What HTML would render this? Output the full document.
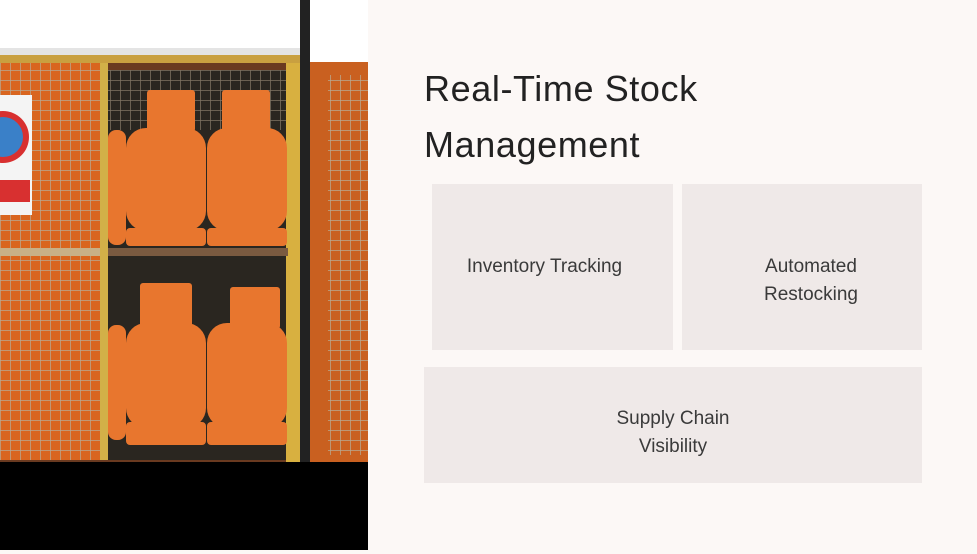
<!DOCTYPE html>
<html><head><meta charset="utf-8"><style>
body{margin:0;width:977px;height:554px;overflow:hidden;background:#fcf8f6;font-family:"Liberation Sans",sans-serif;position:relative}
.t{position:absolute;left:424px;font-size:36px;color:#222;line-height:56px;top:61px;margin:0;font-weight:normal;letter-spacing:0.6px}
.b{position:absolute;background:#efe9e8;display:flex;align-items:center;justify-content:center;text-align:center;font-size:19px;color:#3a3a3a;line-height:28px;box-sizing:border-box}
</style></head><body>
<svg style="position:absolute;left:0;top:0" width="368" height="550" viewBox="0 0 368 550">
<defs><pattern id="m" width="10" height="10" patternUnits="userSpaceOnUse"><path d="M0 0H10M0 0V10" stroke="#b8a890" stroke-width="1.5" fill="none"/></pattern></defs>
<rect width="368" height="550" fill="#fff"/>
<rect x="0" y="48" width="300" height="8" fill="#e4e4e4"/>
<rect x="0" y="56" width="300" height="408" fill="#6a3a20"/>
<rect x="0" y="60" width="105" height="400" fill="#d9651f"/>
<rect x="0" y="60" width="105" height="400" fill="url(#m)"/>
<rect x="108" y="70" width="180" height="390" fill="#2a2620"/>
<rect x="108" y="70" width="180" height="60" fill="url(#m)" opacity="0.6"/>
<rect x="300" y="0" width="10" height="470" fill="#222"/>
<rect x="310" y="62" width="58" height="400" fill="#c96020"/>
<rect x="328" y="75" width="40" height="380" fill="url(#m)"/>
<rect x="286" y="56" width="14" height="410" fill="#d8b040"/>
<rect x="100" y="60" width="8" height="400" fill="#d2b048"/>
<rect x="0" y="55" width="300" height="8" fill="#c9a040"/>
<rect x="108" y="248" width="180" height="8" fill="#7a5a40"/>
<rect x="0" y="248" width="100" height="8" fill="#c8b088"/>
<g fill="#e8762e">
<rect x="147" y="90" width="48" height="42" rx="3"/><rect x="222" y="90" width="48" height="42" rx="3"/>
<rect x="126" y="128" width="80" height="103" rx="20"/><rect x="207" y="128" width="80" height="103" rx="20"/>
<rect x="126" y="228" width="80" height="18" rx="4"/><rect x="207" y="228" width="80" height="18" rx="4"/>
<rect x="140" y="283" width="52" height="45" rx="3"/><rect x="230" y="287" width="50" height="42" rx="3"/>
<rect x="126" y="323" width="80" height="105" rx="20"/><rect x="207" y="323" width="80" height="105" rx="20"/>
<rect x="126" y="422" width="80" height="23" rx="4"/><rect x="207" y="422" width="80" height="23" rx="4"/>
<rect x="108" y="130" width="18" height="115" rx="8"/><rect x="108" y="325" width="18" height="115" rx="8"/>
</g>
<rect x="0" y="95" width="32" height="120" fill="#f4f4f4"/>
<circle cx="3" cy="137" r="26" fill="#d83030"/><circle cx="3" cy="137" r="20" fill="#3a80c8"/>
<rect x="0" y="180" width="30" height="22" fill="#d83030"/>
<rect x="0" y="462" width="368" height="88" fill="#000"/>
</svg>
<h1 class="t">Real-Time Stock<br>Management</h1>
<div class="b" style="left:432px;top:184px;width:241px;height:166px;padding-right:16px">Inventory Tracking</div>
<div class="b" style="left:682px;top:184px;width:240px;height:166px;padding-top:28px;padding-left:18px">Automated<br>Restocking</div>
<div class="b" style="left:424px;top:367px;width:498px;height:116px;padding-top:16px">Supply Chain<br>Visibility</div>
</body></html>
